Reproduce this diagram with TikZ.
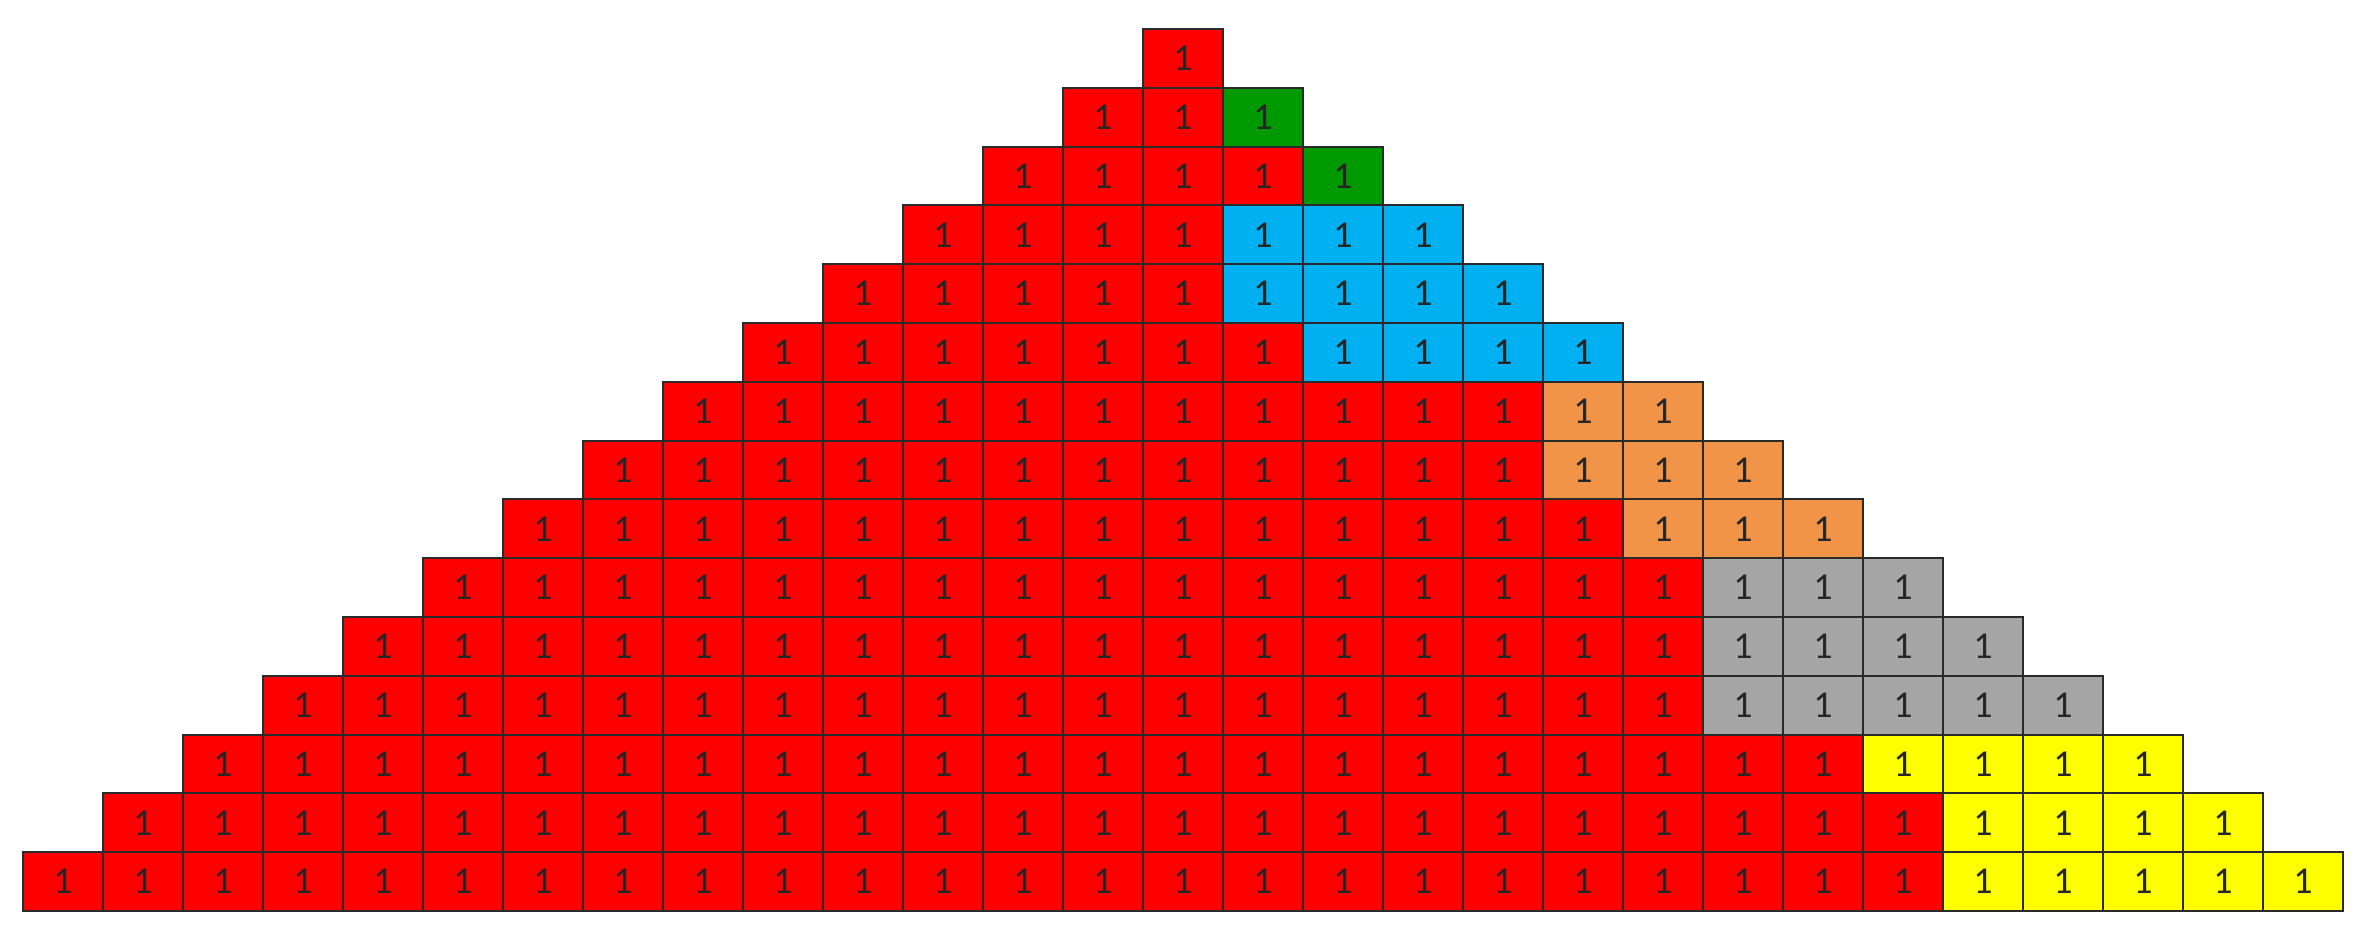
\documentclass[tikz,border=0pt]{standalone}
\usepackage{fontspec}
\setmainfont{Carlito}
\definecolor{cred}{HTML}{FF0000}
\definecolor{cgreen}{HTML}{009A00}
\definecolor{cblue}{HTML}{00B0F0}
\definecolor{corange}{HTML}{F29448}
\definecolor{cgray}{HTML}{A6A6A6}
\definecolor{cyellow}{HTML}{FFFF00}
\definecolor{cline}{HTML}{2A2A2A}
\begin{document}
\begin{tikzpicture}[x=0.5pt,y=-0.5pt,
  cell/.style={draw=cline, line width=1pt, minimum width=40pt, minimum height=29.4pt,
    inner sep=0pt, outer sep=0pt, font=\fontsize{19}{19}\selectfont, text=black!85}]
\useasboundingbox (0,0) rectangle (2357,942);
\foreach \r/\s/\col in {0/1/cred, 1/1/cgreen, 2/2/cgreen, 3/1/cblue, 4/1/cblue, 5/2/cblue,
  6/5/corange, 7/5/corange, 8/6/corange, 9/7/cgray, 10/7/cgray, 11/7/cgray,
  12/9/cyellow, 13/10/cyellow, 14/10/cyellow} {
  \pgfmathtruncatemacro\lo{-\r}
  \foreach \c in {\lo,...,\r} {
    \ifnum\c<\s\relax \def\fc{cred}\else\edef\fc{\col}\fi
    \node[cell, fill=\fc] (n-\r-\c) at ({1183+80*\c},{29+58.8*(\r+0.5)}) {1};
  }
}
\end{tikzpicture}
\end{document}
